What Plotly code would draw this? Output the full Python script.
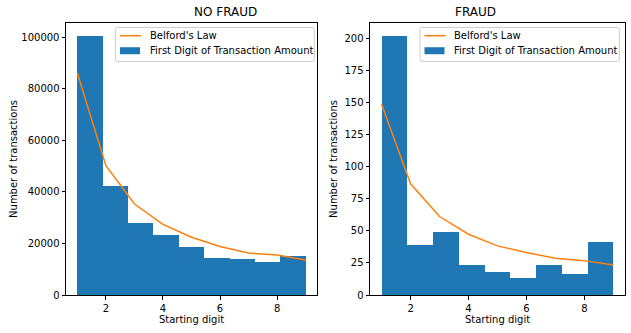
import plotly.graph_objects as go

digits = [1, 2, 3, 4, 5, 6, 7, 8, 9]
nofraud_counts = [100500, 42300, 27900, 23300, 18600, 14400, 14000, 12800, 15100]
nofraud_benford = [86000, 50200, 35300, 27400, 22400, 18800, 16300, 15500, 13600]
fraud_counts = [202, 39, 49, 23.5, 18, 13.3, 23.5, 16.4, 41.4]
fraud_benford = [148.7, 86.7, 61.2, 47.4, 38.3, 33.1, 28.6, 26.8, 23.4]
titles = ["NO FRAUD", "FRAUD"]
y_ticks = [[0, 20000, 40000, 60000, 80000, 100000], [0, 25, 50, 75, 100, 125, 150, 175, 200]]
x_ticks = [2, 4, 6, 8]
legend_labels = ["Belford's Law", "First Digit of Transaction Amount"]

BLUE = "#1f77b4"
ORANGE = "#ff7f0e"
FONT = "DejaVu Sans"

lo, hi = min(digits), max(digits)
nb = len(digits)
bw = (hi - lo) / nb
centers = [lo + (i + 0.5) * bw for i in range(nb)]

W, H = 631, 333
ML, MR, MT, MB = 66, 6, 23.3, 38
PW, PH = W - ML - MR, H - MT - MB


def px(x):
    return (x - ML) / PW


def py(y):
    return (H - MB - y) / PH


panel_px = [(66, 317), (370, 625)]
xdoms = [[px(a), px(b)] for a, b in panel_px]

fig = go.Figure()
panels = [
    (nofraud_counts, nofraud_benford, "x", "y"),
    (fraud_counts, fraud_benford, "x2", "y2"),
]
for counts, benf, xa, ya in panels:
    fig.add_trace(go.Scatter(x=digits, y=benf, mode="lines", name=legend_labels[0],
                             line=dict(color=ORANGE, width=1.5), xaxis=xa, yaxis=ya,
                             showlegend=False))
    fig.add_trace(go.Bar(x=centers, y=counts, width=bw, name=legend_labels[1],
                         marker=dict(color=BLUE, line=dict(width=0)), xaxis=xa, yaxis=ya,
                         showlegend=False))

ymax = [max(nofraud_counts) * 1.05, max(fraud_counts) * 1.05]
ystandoff = [1.5, 4]

axis_common = dict(showline=True, linecolor="black", linewidth=1, mirror=True,
                   ticks="outside", ticklen=3.5, tickwidth=1, tickcolor="black",
                   showgrid=False, zeroline=False, automargin=False,
                   tickfont=dict(family=FONT, size=10, color="black"))

layout = dict(
    width=W, height=H,
    margin=dict(l=ML, r=MR, t=MT, b=MB),
    paper_bgcolor="white", plot_bgcolor="white",
    font=dict(family=FONT, size=10, color="black"),
    bargap=0, showlegend=False,
)
for i in range(2):
    sfx = "" if i == 0 else "2"
    layout["xaxis" + sfx] = dict(axis_common, domain=xdoms[i],
                                 range=[lo - 0.05 * (hi - lo), hi + 0.05 * (hi - lo)],
                                 tickvals=x_ticks, anchor="y" + sfx,
                                 title=dict(text="Starting digit", font=dict(family=FONT, size=10), standoff=3))
    layout["yaxis" + sfx] = dict(axis_common, domain=[0, 1], range=[0, ymax[i]],
                                 tickvals=y_ticks[i], tickformat="d", anchor="x" + sfx,
                                 title=dict(text="Number of transactions", font=dict(family=FONT, size=10),
                                            standoff=ystandoff[i]))

fig.update_layout(**layout)

shapes = []
annots = []
legend_boxes = [(115.5, 314.3), (420, 619.3)]
for i in range(2):
    annots.append(dict(text=titles[i], x=(xdoms[i][0] + xdoms[i][1]) / 2, y=py(12.7),
                       xref="paper", yref="paper", showarrow=False, yanchor="middle",
                       font=dict(family=FONT, size=12, color="black")))
    x0, x1 = legend_boxes[i]
    y0, y1 = 27.8, 61.7
    r = 2
    path = (f"M {px(x0 + r)},{py(y0)} L {px(x1 - r)},{py(y0)} Q {px(x1)},{py(y0)} {px(x1)},{py(y0 + r)} "
            f"L {px(x1)},{py(y1 - r)} Q {px(x1)},{py(y1)} {px(x1 - r)},{py(y1)} "
            f"L {px(x0 + r)},{py(y1)} Q {px(x0)},{py(y1)} {px(x0)},{py(y1 - r)} "
            f"L {px(x0)},{py(y0 + r)} Q {px(x0)},{py(y0)} {px(x0 + r)},{py(y0)} Z")
    shapes.append(dict(type="path", path=path, xref="paper", yref="paper",
                       fillcolor="rgba(255,255,255,0.8)", line=dict(color="#cccccc", width=1)))
    hx0 = x0 + 4.5
    hx1 = hx0 + 21
    shapes.append(dict(type="line", x0=px(hx0), x1=px(hx1), y0=py(36), y1=py(36),
                       xref="paper", yref="paper", line=dict(color=ORANGE, width=1.5)))
    shapes.append(dict(type="rect", x0=px(hx0), x1=px(hx1 - 1), y0=py(47.5), y1=py(54.5),
                       xref="paper", yref="paper", fillcolor=BLUE, line=dict(width=0)))
    for j, yy in enumerate([36, 51]):
        annots.append(dict(text=legend_labels[j], x=px(x0 + 32), y=py(yy), xref="paper", yref="paper",
                           xanchor="left", yanchor="middle", showarrow=False,
                           font=dict(family=FONT, size=10, color="black")))

fig.update_layout(shapes=shapes, annotations=annots)
fig.write_html("out.html")
